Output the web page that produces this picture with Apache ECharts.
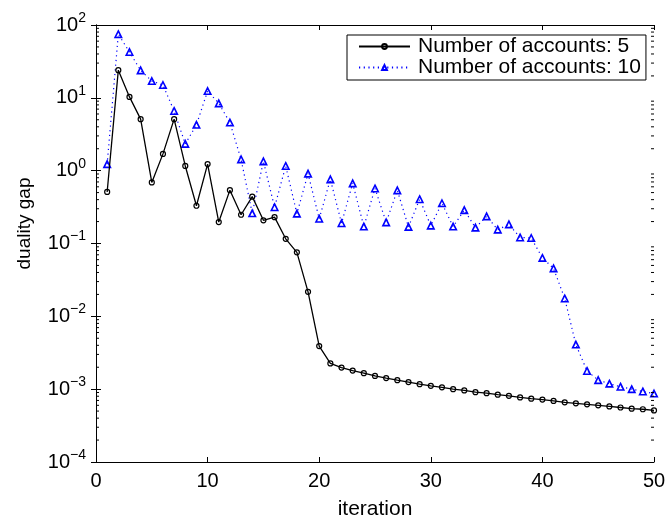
<!DOCTYPE html>
<html>
<head>
<meta charset="utf-8">
<script src="https://cdn.jsdelivr.net/npm/echarts@6/dist/echarts.min.js"></script>
<style>html,body{margin:0;padding:0;background:#fff;}#c{width:670px;height:525px;}</style>
</head>
<body>
<div id="c"></div>
<script>
var iterations = [1,2,3,4,5,6,7,8,9,10,11,12,13,14,15,16,17,18,19,20,21,22,23,24,25,26,27,28,29,30,31,32,33,34,35,36,37,38,39,40,41,42,43,44,45,46,47,48,49,50];
var gap5 = [0.51,24,10.3,5.1,0.69,1.7,5.1,1.16,0.33,1.23,0.197,0.54,0.248,0.44,0.208,0.23,0.116,0.0757,0.0217,0.0039,0.00226,0.00198,0.0018,0.00166,0.00152,0.00142,0.00133,0.00125,0.00117,0.00111,0.00106,0.001,0.00096,0.00091,0.00088,0.00084,0.00081,0.00077,0.00074,0.00072,0.00069,0.00066,0.00064,0.00062,0.0006,0.00058,0.00056,0.00054,0.00053,0.00051];
var gap10 = [1.23,74.7,42.6,23.8,17,15,6.6,2.33,4.26,12.4,8.4,4.58,1.43,0.26,1.34,0.315,1.16,0.257,0.91,0.219,0.76,0.19,0.67,0.171,0.57,0.195,0.537,0.169,0.406,0.176,0.357,0.171,0.287,0.165,0.236,0.155,0.183,0.121,0.119,0.0634,0.0455,0.0176,0.0041,0.00178,0.00133,0.00119,0.00108,0.001,0.00093,0.00087];
var seriesNames = ['Number of accounts: 5', 'Number of accounts: 10'];
var xTicks = [0,10,20,30,40,50];
var minorMantissas = [2,3,4,5,6,7,8,9];
var minorDecades = [-4,-3,-2,-1,0,1];

var FONT = 'Liberation Sans, Arial, sans-serif';
var minorData = [];
minorDecades.forEach(function (d) {
  minorMantissas.forEach(function (m) { minorData.push([0, m * Math.pow(10, d)]); });
});
function pairs(ys) { return iterations.map(function (x, i) { return [x, ys[i]]; }); }

var chart = echarts.init(document.getElementById('c'), null, {renderer: 'canvas'});
var axisLineStyle = {color: '#000', width: 1};
var option = {
  animation: false,
  backgroundColor: '#fff',
  grid: {left: 96, right: 16, top: 25, bottom: 58, containLabel: false},
  legend: {
    show: true,
    data: seriesNames,
    orient: 'vertical',
    left: 347,
    top: 35,
    padding: [1, 5, 2, 11],
    itemGap: 0,
    itemWidth: 51,
    itemHeight: 6,
    backgroundColor: '#fff',
    borderColor: '#000',
    borderWidth: 1,
    borderRadius: 0,
    textStyle: {fontSize: 21, fontFamily: FONT, color: '#000', lineHeight: 21, padding: [0, 0, 0, 3]}
  },
  xAxis: [{
    type: 'value', min: xTicks[0], max: xTicks[xTicks.length - 1], interval: 10,
    position: 'bottom',
    axisLine: {show: true, lineStyle: axisLineStyle},
    axisTick: {show: true, inside: true, length: 5, lineStyle: axisLineStyle},
    axisLabel: {fontSize: 20, fontFamily: FONT, color: '#000', margin: 9},
    splitLine: {show: false},
    name: 'iteration', nameLocation: 'middle', nameGap: 37,
    nameTextStyle: {fontSize: 21, fontFamily: FONT, color: '#000'}
  }, {
    type: 'value', min: xTicks[0], max: xTicks[xTicks.length - 1], interval: 10,
    position: 'top',
    axisLine: {show: true, lineStyle: axisLineStyle},
    axisTick: {show: true, inside: true, length: 5, lineStyle: axisLineStyle},
    axisLabel: {show: false},
    splitLine: {show: false}
  }],
  yAxis: [{
    type: 'log', logBase: 10, min: 0.0001, max: 100, interval: 1,
    position: 'left',
    axisLine: {show: true, lineStyle: axisLineStyle},
    axisTick: {show: true, inside: true, length: 5, lineStyle: axisLineStyle},
    splitLine: {show: false},
    axisLabel: {
      margin: 10,
      formatter: function (v) {
        var e = Math.round(Math.log10(v));
        var s = e < 0 ? '\u2212' + (-e) : '' + e;
        return '{b|10}{s|' + s + '}';
      },
      rich: {
        b: {fontSize: 20, fontFamily: FONT, color: '#000', lineHeight: 28},
        s: {fontSize: 14, fontFamily: FONT, color: '#000', lineHeight: 14, verticalAlign: 'top'}
      }
    },
    name: 'duality gap', nameLocation: 'middle', nameGap: 62, nameRotate: 90,
    nameTextStyle: {fontSize: 19, fontFamily: FONT, color: '#000', padding: [0, 0, 0, 40]}
  }, {
    type: 'log', logBase: 10, min: 0.0001, max: 100, interval: 1,
    position: 'right',
    axisLine: {show: true, lineStyle: axisLineStyle},
    axisTick: {show: true, inside: true, length: 5, lineStyle: axisLineStyle},
    axisLabel: {show: false},
    splitLine: {show: false}
  }],
  series: [{
    name: seriesNames[1],
    type: 'line',
    data: pairs(gap10),
    showAllSymbol: true,
    symbol: 'triangle',
    symbolSize: 6.5,
    color: '#0000ff',
    lineStyle: {color: '#0000ff', width: 1.2, type: [1.2, 3.5]},
    itemStyle: {color: 'rgba(255,255,255,0)', borderColor: '#0000ff', borderWidth: 1.6},
    z: 2
  }, {
    name: seriesNames[0],
    type: 'line',
    data: pairs(gap5),
    showAllSymbol: true,
    symbol: 'circle',
    symbolSize: 5,
    color: '#000',
    lineStyle: {color: '#000', width: 1.3},
    itemStyle: {color: 'rgba(0,0,0,0)', borderColor: '#000', borderWidth: 1.2},
    z: 3
  }, {
    type: 'custom',
    silent: true,
    clip: false,
    data: minorData,
    z: 5,
    renderItem: function (params, api) {
      var v = api.value(1);
      var pl = api.coord([xTicks[0], v]);
      var pr = api.coord([xTicks[xTicks.length - 1], v]);
      var st = {stroke: '#000', lineWidth: 1};
      return {type: 'group', children: [
        {type: 'line', shape: {x1: pl[0], y1: pl[1], x2: pl[0] + 3, y2: pl[1]}, style: st},
        {type: 'line', shape: {x1: pr[0] - 3, y1: pr[1], x2: pr[0], y2: pr[1]}, style: st}
      ]};
    }
  }]
};
chart.setOption(option);
</script>
</body>
</html>
